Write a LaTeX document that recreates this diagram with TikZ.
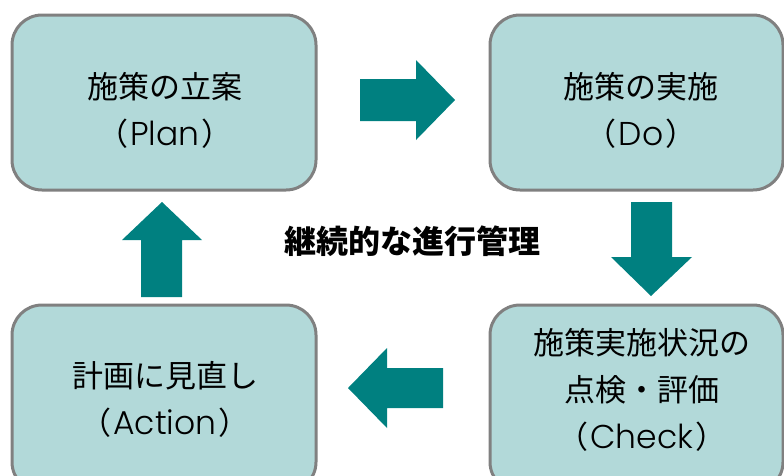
\documentclass[tikz,border=0pt]{standalone}
\usepackage{fontspec}
\newfontfamily\jp{Noto Sans CJK JP}
\newfontfamily\lat{Poppins Light}
\newcommand{\lt}[1]{{\lat\fontsize{33}{47}\selectfont\hspace{2pt}#1\hspace{2pt}}}
\definecolor{boxfill}{HTML}{B2D9D9}
\definecolor{boxline}{HTML}{808080}
\definecolor{arrowc}{HTML}{008080}
\begin{document}
\begin{tikzpicture}[x=1pt,y=-1pt,
  pbox/.style={draw=boxline,line width=3pt,fill=boxfill,rounded corners=30pt,inner sep=0pt},
  ptext/.style={inner sep=0pt,align=center,font=\jp\fontsize{31}{47}\selectfont,text=black},
  blockarrow/.style={fill=arrowc,draw=none}]
\useasboundingbox (0,0) rectangle (784,475);
\clip (0,0) rectangle (784,475);
% boxes
\draw[pbox] (12,15) rectangle (316,190);
\draw[pbox] (490,15) rectangle (783,190);
\draw[pbox] (12,305) rectangle (316,492);
\draw[pbox] (490,305) rectangle (783,492);
% texts
\node[ptext] (tplan) at (165,110) {施策の立案\\（\lt{Plan}）};
\node[ptext] (tdo) at (641,110) {施策の実施\\（\lt{Do}）};
\node[ptext] (tact) at (165,399) {計画に見直し\\（\lt{Action}）};
\node[ptext] (tchk) at (642,390) {施策実施状況の\\点検・評価\\（\lt{Check}）};
\node[ptext,font=\jp\bfseries\fontsize{32}{36}\selectfont] (center) at (412,241) {継続的な進行管理};
% arrows
\fill[blockarrow] (360,79) -- (416,79) -- (416,60) -- (455,100) -- (416,140) -- (416,121) -- (360,121) -- cycle;
\fill[blockarrow] (631,202) -- (672,202) -- (672,257) -- (692,257) -- (651,296) -- (611,257) -- (631,257) -- cycle;
\fill[blockarrow] (443,368) -- (387,368) -- (387,348) -- (348,388) -- (387,428) -- (387,408) -- (443,408) -- cycle;
\fill[blockarrow] (141,297) -- (141,240) -- (122,240) -- (162,202) -- (202,240) -- (182,240) -- (182,297) -- cycle;
\end{tikzpicture}
\end{document}
